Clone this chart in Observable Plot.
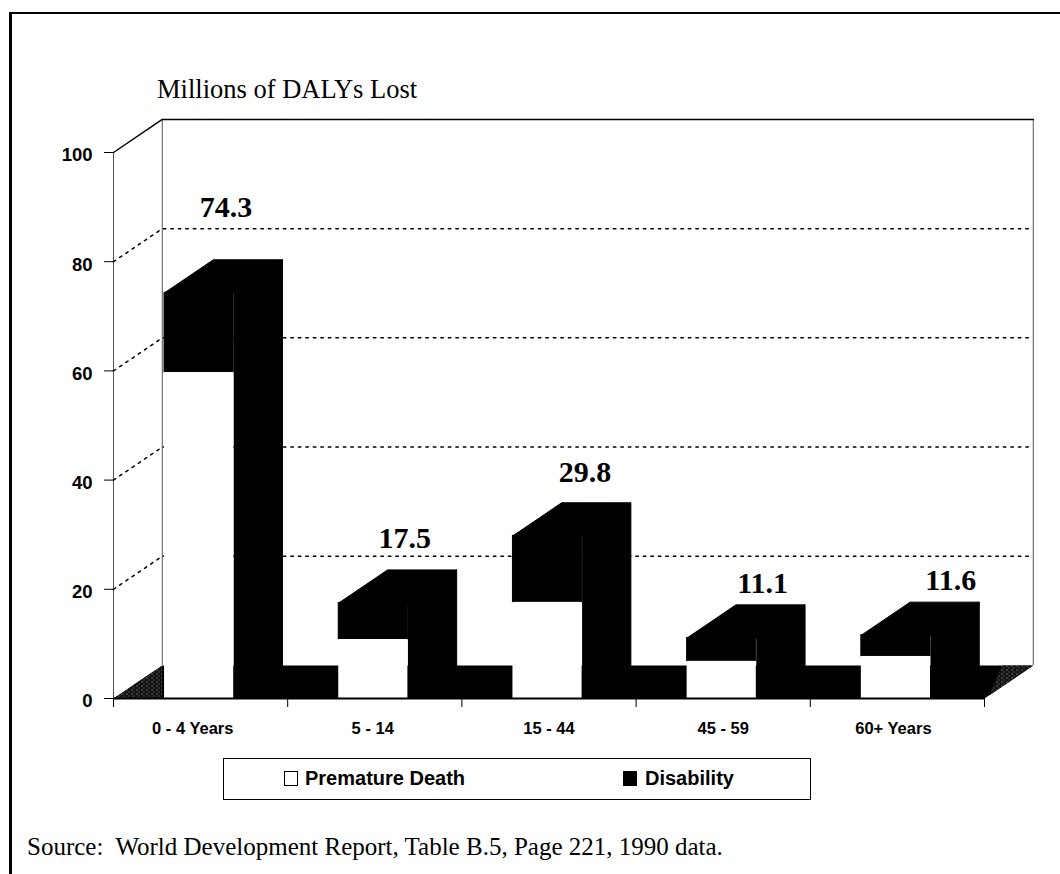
<!DOCTYPE html>
<html>
<head>
<meta charset="utf-8">
<script src="https://cdn.jsdelivr.net/npm/d3@7"></script>
<script src="https://cdn.jsdelivr.net/npm/@observablehq/plot@0.6"></script>
<style>
  html, body { margin: 0; padding: 0; background: #fff; }
  #page { position: relative; width: 1060px; height: 874px; overflow: hidden; }
  #chart { position: absolute; left: 0; top: 0; }
  .frame { position: absolute; background: #000; }
  .title { position: absolute; left: 157px; top: 74px; font: 26.5px "Liberation Serif", serif; color: #000; white-space: nowrap; }
  .source { position: absolute; left: 27px; top: 833px; font: 25px "Liberation Serif", serif; color: #000; white-space: nowrap; }
  .legend { position: absolute; left: 223px; top: 758px; width: 588px; height: 42px; border: 1.5px solid #000; box-sizing: border-box; background: #fff; font: bold 20px "Liberation Sans", sans-serif; }
  .legend span { position: absolute; top: 8px; white-space: nowrap; }
  .swatch { position: absolute; top: 12px; width: 14px; height: 15px; border: 1px solid #000; box-sizing: border-box; }
</style>
</head>
<body>
<div id="page">
  <div class="frame" style="left:9px;top:12px;width:3px;height:862px"></div>
  <div class="frame" style="left:9px;top:12px;width:1051px;height:2px"></div>
  <div class="title">Millions of DALYs Lost</div>
  <div id="chart"></div>
  <div class="legend">
    <div class="swatch" style="left:60px;background:#fff"></div>
    <span style="left:81px">Premature Death</span>
    <div class="swatch" style="left:399px;background:#000"></div>
    <span style="left:421px">Disability</span>
  </div>
  <div class="source">Source:&nbsp; World Development Report, Table B.5, Page 221, 1990 data.</div>
</div>
<script>
// DALYs lost by age group, in millions
const ageGroups = ["0 - 4 Years", "5 - 14", "15 - 44", "45 - 59", "60+ Years"];
const prematureDeath = [59.7, 10.8, 17.6, 6.8, 7.7];
const totals = [74.3, 17.5, 29.8, 11.1, 11.6];
const yTicks = [0, 20, 40, 60, 80, 100];
const gridValues = [20, 40, 60, 80];

// Oblique projection: how far the back wall is shifted, in scale units
const depthX = 0.28;
const depthY = 6.05;
const barStart = 0.293;
const barWidth = 0.397;

// Where each total sits relative to its bar's back edge
const labelShiftX = [0.155, 0.18, 0.215, 0.235, 0.315];
const labelLift = [7.8, 4.1, 3.8, 2.1, 2.3];
const groupLabelShift = [-0.045, -0.012, 0, 0, -0.023];

const bars = ageGroups.map((group, i) => ({
  group,
  left: i + barStart,
  right: i + barStart + barWidth,
  death: prematureDeath[i],
  total: totals[i]
}));

// Closed outlines for the top and side of every bar
const faces = bars.flatMap((b, i) => [
  {id: `top${i}`, x: b.left, y: b.total},
  {id: `top${i}`, x: b.left + depthX, y: b.total + depthY},
  {id: `top${i}`, x: b.right + depthX, y: b.total + depthY},
  {id: `top${i}`, x: b.right, y: b.total},
  {id: `side${i}`, x: b.right, y: 0},
  {id: `side${i}`, x: b.right + depthX, y: depthY},
  {id: `side${i}`, x: b.right + depthX, y: b.total + depthY},
  {id: `side${i}`, x: b.right, y: b.total}
]);

const floor = [
  {x: 0, y: 0},
  {x: depthX, y: depthY},
  {x: 5 + depthX, y: depthY},
  {x: 5, y: 0}
];

// The two ends of the floor that no bar covers, printed in a coarse screen
const floorEnds = [
  {id: "left", x: 0, y: 0},
  {id: "left", x: depthX, y: depthY},
  {id: "left", x: depthX, y: 0},
  {id: "right", x: 5 + depthX, y: depthY},
  {id: "right", x: 5.03, y: 0.6},
  {id: "right", x: 5.1, y: depthY}
];

const wallLines = gridValues.flatMap(v => [
  {id: v, x: 0, y: v},
  {id: v, x: depthX, y: v + depthY},
  {id: v, x: 5 + depthX, y: v + depthY}
]);

const outline = [
  {x: 0, y: 100},
  {x: depthX, y: 100 + depthY},
  {x: 5 + depthX, y: 100 + depthY}
];

// Fine white speckle on black for the exposed floor
function screenPattern() {
  const defs = d3.create("svg:defs");
  const p = defs.append("pattern")
    .attr("id", "floor-screen")
    .attr("patternUnits", "userSpaceOnUse")
    .attr("width", 5)
    .attr("height", 4);
  p.append("rect").attr("width", 5).attr("height", 4).attr("fill", "#111");
  p.append("rect").attr("x", 1).attr("y", 1).attr("width", 1).attr("height", 1).attr("fill", "#bbb");
  p.append("rect").attr("x", 3).attr("y", 3).attr("width", 1).attr("height", 1).attr("fill", "#888");
  return defs.node();
}

const chart = Plot.plot({
  width: 1060,
  height: 874,
  marginLeft: 113,
  marginRight: 76,
  marginTop: 152,
  marginBottom: 176,
  style: {background: "transparent", overflow: "visible"},
  x: {domain: [0, 5], axis: null},
  y: {domain: [0, 100], axis: null},
  marks: [
    screenPattern,

    // Walls
    Plot.ruleX([0], {y1: 0, y2: 100, stroke: "#555", strokeWidth: 1}),
    Plot.ruleX([depthX], {y1: depthY, y2: 100 + depthY, stroke: "#555", strokeWidth: 1}),
    Plot.ruleX([5 + depthX], {y1: depthY, y2: 100 + depthY, stroke: "#555", strokeWidth: 1}),
    Plot.line(outline, {x: "x", y: "y", stroke: "#000", strokeWidth: 1.5}),
    Plot.line(wallLines, {x: "x", y: "y", z: "id", stroke: "#000", strokeWidth: 1.5, strokeDasharray: "2.5 5"}),

    // Floor
    Plot.line(floor, {x: "x", y: "y", fill: "#000", stroke: "none"}),
    Plot.line(floorEnds, {x: "x", y: "y", z: "id", fill: "url(#floor-screen)", stroke: "none"}),

    // Bars
    Plot.line(faces, {x: "x", y: "y", z: "id", fill: "#000", stroke: "#000", strokeWidth: 1}),
    Plot.rect(bars, {x1: "left", x2: "right", y1: "death", y2: "total", fill: "#000", stroke: "#000"}),
    Plot.rect(bars, {x1: "left", x2: "right", y1: 0, y2: "death", fill: "#fff"}),

    // Axes
    Plot.ruleY([0], {x1: 0, x2: 5, stroke: "#000", strokeWidth: 2}),
    Plot.axisY({
      ticks: yTicks,
      tickSize: 9,
      tickFormat: () => "",
      stroke: "#000",
      label: null
    }),
    Plot.text(yTicks, {
      x: 0,
      y: d => d,
      text: d => `${d}`,
      dx: -21,
      dy: 3,
      textAnchor: "end",
      fontSize: 18.5,
      fontWeight: "bold",
      fontFamily: "Liberation Sans",
      fill: "#000"
    }),
    Plot.axisX({
      ticks: d3.range(6),
      tickSize: 9,
      tickFormat: () => "",
      stroke: "#000",
      label: null
    }),
    Plot.text(ageGroups, {
      x: (d, i) => i + 0.5 + groupLabelShift[i],
      y: 0,
      text: d => d,
      dy: 30,
      fontSize: 16.5,
      fontWeight: "bold",
      fontFamily: "Liberation Sans",
      fill: "#000"
    }),

    // Totals above the bars
    Plot.text(bars, {
      x: (d, i) => d.left + barWidth / 2 + labelShiftX[i],
      y: (d, i) => d.total + depthY + labelLift[i],
      text: d => d.total.toFixed(1),
      lineAnchor: "bottom",
      fontSize: 30,
      fontWeight: "bold",
      fontFamily: "Liberation Serif",
      fill: "#000"
    })
  ]
});

document.getElementById("chart").appendChild(chart);
</script>
</body>
</html>
